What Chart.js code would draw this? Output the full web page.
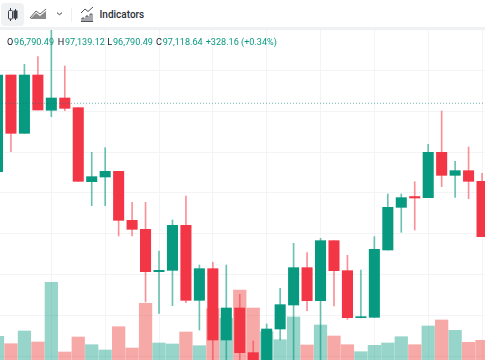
<!DOCTYPE html>
<html><head><meta charset="utf-8">
<script src="https://cdn.jsdelivr.net/npm/chart.js@4"></script>
<style>
html,body{margin:0;padding:0;background:#fff;overflow:hidden}
#wrap{position:relative;width:485px;height:360px;font-family:Roboto,"Open Sans",sans-serif}
canvas{position:absolute;left:0;top:0}
#bar{position:absolute;left:0;top:0;width:485px;height:27px;background:#fff;border-bottom:3px solid #f0f1f2}
#btn{position:absolute;left:1px;top:3px;width:23px;height:23px;background:#f0f1f2;border-radius:4px}
#sep{position:absolute;left:71px;top:8px;width:1px;height:14px;background:#eceef0}
#ind{position:absolute;left:99.5px;top:6.5px;font-size:10px;line-height:16px;color:#2a2e39;font-weight:500}
#leg{position:absolute;left:7px;top:34.5px;font-size:9.1px;line-height:14px;color:#089981;white-space:nowrap}
#leg b{font-weight:400;color:#131722;margin-right:.8px}
#leg span{position:absolute;top:0;white-space:nowrap}
svg{position:absolute}
</style></head><body>
<div id="wrap">
<canvas id="c" width="485" height="360"></canvas>
<div id="bar"><div id="btn"></div><div id="sep"></div><div id="ind">Indicators</div>
<svg style="left:0;top:0" width="100" height="27" fill="none" stroke="#3a3f4a" stroke-width="1">
<path d="M10.5 8v2M10.5 19v2M15.5 9v2M15.5 18v2"/><rect x="8.5" y="10.5" width="4" height="8.5" rx="1"/><rect x="14" y="11" width="3" height="7" fill="#3a3f4a"/>
<path d="M30 18l6-7 4 3 6-5" stroke="#666"/><path d="M30 19l6-6 4 3 6-5v8z" fill="#8a8a8a" stroke="none"/>
<path d="M57 12.7l2.5 2L62 12.7"/>
<path d="M81 13l4-4 3 2.5 5-4.5" stroke-width=".9"/><path d="M82 21v-3h2v3M86 21v-5h2v5M90 21v-7h2v7M81 21.5h12" stroke-width=".9"/>
</svg></div>
<div id="leg"></div>
</div>
<script>
const indices=[...Array(37).keys()];
const opens =[96092,97543,96668,97543,97014,97198,97053,95943,96013,96098,95363,95228,94593,94613,95288,94163,94638,93568,94048,93378,93088,93733,94093,94653,94158,95058,94608,93903,93908,94918,95558,95720,95703,96383,96038,96108,95948];
const highs =[97543,97543,97703,97818,98233,97678,97053,96383,96453,96098,95633,95633,94903,95368,95728,94693,94733,94693,94253,93553,93808,94343,95018,94878,95093,95058,94838,94618,95118,95758,95758,95943,96503,97003,96248,96463,96068];
const lows  =[96092,96393,96668,97018,96918,97008,95948,95583,95583,95128,95128,94138,93968,94083,94128,93718,93193,93193,93193,93043,93043,93568,93193,94008,93193,94078,93878,93898,93908,94918,95183,95218,95703,95868,95708,95688,95118];
const closes=[97543,96668,97543,97018,97198,97043,95948,96018,96098,95363,95228,94593,94613,95288,94163,94638,93568,94048,93378,93088,93733,94098,94653,94158,95058,94608,93903,93918,94928,95558,95703,95698,96383,96038,96108,95948,95118];
const volumes=[237,163,290,180,777,80,230,153,100,333,120,567,170,160,280,143,513,417,700,520,283,203,430,150,350,240,153,83,147,170,233,153,340,400,297,177,197];
const priceTicks=[97612,97000,96388,95776,95164,94552,93940,93328];
const gridIndices=[0,4,8,12,16,20,24,28,32,36];
const lastPrice=97118.64;
const legendLabels=["O","H","L","C"];
const legendValues=["96,790.49","97,139.12","96,790.49","97,118.64"];
const legendChange="+328.16 (+0.34%)";

const UP="#089981",DOWN="#f23645",UPV="rgba(8,153,129,.42)",DOWNV="rgba(236,50,48,.42)";
const isUp=i=>closes[i]>=opens[i];
const col=(a,b)=>indices.map(i=>isUp(i)?a:b);

const legX=[0,50.7,100.3,149];
const leg=document.getElementById('leg');
legendLabels.forEach((l,i)=>{const s=document.createElement('span');s.style.left=legX[i]+'px';s.innerHTML='<b>'+l+'</b>'+legendValues[i];leg.appendChild(s);});
const ch=document.createElement('span');ch.style.left='198.7px';ch.textContent=legendChange;leg.appendChild(ch);

new Chart(document.getElementById('c'),{
 data:{datasets:[
  {type:'line',yAxisID:'y',order:1,data:[{x:-1,y:lastPrice},{x:38,y:lastPrice}],borderColor:'rgba(8,120,110,.55)',borderWidth:1,borderDash:[1,2],pointRadius:0},
  {type:'bar',yAxisID:'y',order:2,grouped:false,barThickness:10.4,data:indices.map(i=>({x:i,y:[opens[i],closes[i]]})),backgroundColor:col(UP,DOWN),minBarLength:1},
  {type:'bar',yAxisID:'y',order:3,grouped:false,barThickness:1,data:indices.map(i=>({x:i,y:[lows[i],highs[i]]})),backgroundColor:col('rgba(8,153,129,.6)','rgba(242,54,69,.55)')},
  {type:'bar',yAxisID:'v',order:4,grouped:false,barThickness:12.6,data:indices.map(i=>({x:i,y:volumes[i]})),backgroundColor:col(UPV,DOWNV)}
 ]},
 options:{responsive:false,animation:false,
  layout:{padding:{top:30,left:0,right:0,bottom:0}},
  plugins:{legend:{display:false},tooltip:{enabled:false},title:{display:false}},
  scales:{
   x:{type:'linear',offset:false,min:0.186,max:36.22,
      afterBuildTicks:a=>{a.ticks=gridIndices.map(v=>({value:v}))},
      ticks:{display:false},border:{display:false},grid:{color:'#f3f4f6',drawTicks:false,offset:false}},
   y:{min:93268,max:98218,
      afterBuildTicks:a=>{a.ticks=priceTicks.map(v=>({value:v}))},
      ticks:{display:false},border:{display:false},grid:{color:'#f3f4f6',drawTicks:false}},
   v:{min:0,max:3300,display:false}
  }
 }
});
</script>
</body></html>
